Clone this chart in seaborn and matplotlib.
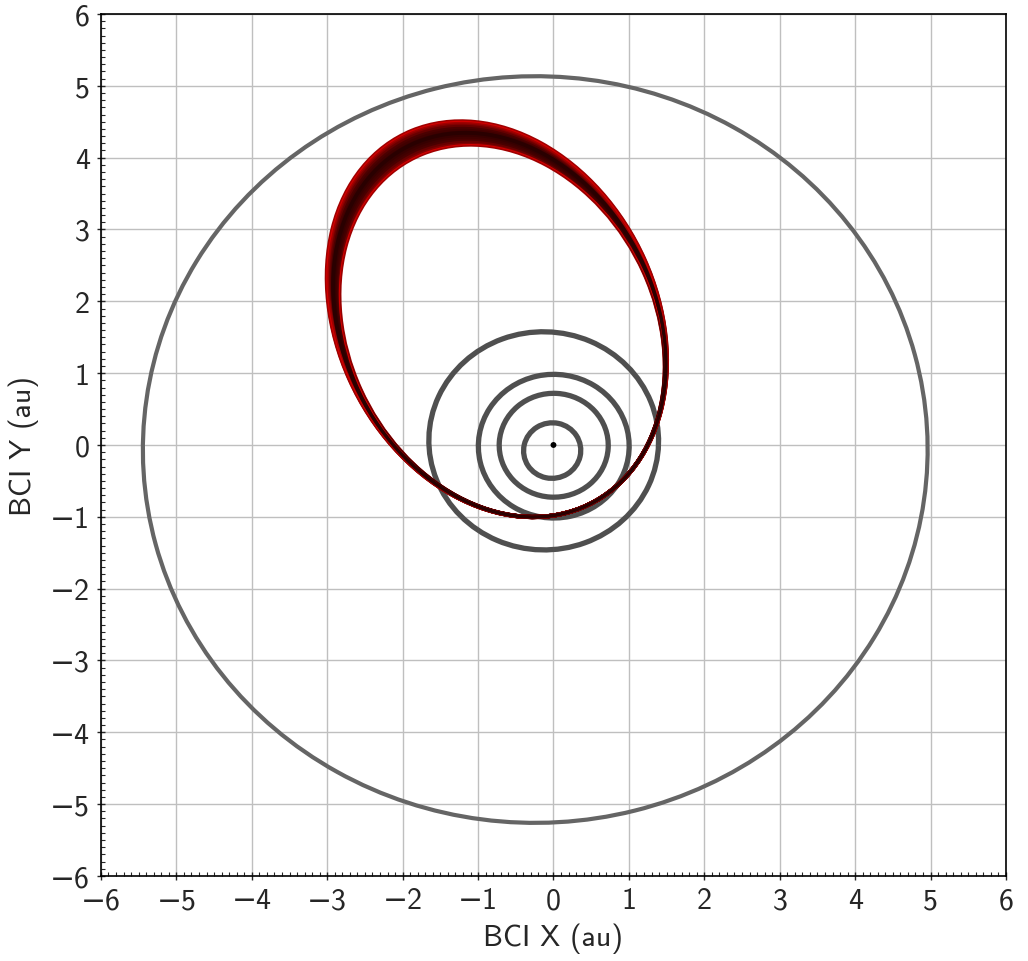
import numpy as np
import matplotlib
matplotlib.use("Agg")
import matplotlib.pyplot as plt
from matplotlib.patches import Ellipse
from matplotlib.colors import LinearSegmentedColormap
from matplotlib.ticker import MultipleLocator
import seaborn as sns

# planet orbits: semi-major axis (au), eccentricity, longitude of perihelion (deg)
planets = ["Mercury", "Venus", "Earth", "Mars", "Jupiter"]
planet_a = [0.387, 0.723, 1.000, 1.524, 5.203]
planet_e = [0.206, 0.007, 0.017, 0.093, 0.048]
planet_peri = [77.5, 131.5, 102.9, 336.0, 14.7]

# small body: many osculating orbits, same perihelion distance, drifting semi-major axis
body_q = 0.95
body_peri = -66.8
body_a = [2.68, 2.695, 2.71, 2.725, 2.74, 2.755, 2.77, 2.785, 2.80, 2.815, 2.83, 2.845, 2.855]

sns.set_style("ticks")
plt.rcParams["font.family"] = ["cmss10", "DejaVu Sans"]
plt.rcParams["axes.unicode_minus"] = True


def orbit_patch(a, e, peri, **kw):
    b = a * np.sqrt(1 - e ** 2)
    w = np.deg2rad(peri)
    cx, cy = -a * e * np.cos(w), -a * e * np.sin(w)
    return Ellipse((cx, cy), 2 * a, 2 * b, angle=peri, fill=False, **kw)


fig = plt.figure(figsize=(10.28, 9.62), dpi=100)
ax = fig.add_axes([0.0982, 0.0884, 0.8804, 0.896])

for name, a, e, w in zip(planets, planet_a, planet_e, planet_peri):
    col = "#656565" if name == "Jupiter" else "#4f4f4f"
    lw = 3.0 if name == "Jupiter" else 3.8
    ax.add_patch(orbit_patch(a, e, w, edgecolor=col, lw=lw, zorder=3))

cmap = LinearSegmentedColormap.from_list(
    "band", ["#a00000", "#4a0000", "#2c0000", "#4a0000", "#a00000"])
n = len(body_a)
for i, a in enumerate(body_a):
    e = 1 - body_q / a
    ax.add_patch(orbit_patch(a, e, body_peri, edgecolor=cmap(i / (n - 1)),
                             lw=3.0, zorder=4))
for a in (body_a[0], body_a[-1]):
    e = 1 - body_q / a
    ax.add_patch(orbit_patch(a, e, body_peri, edgecolor="#d40000",
                             lw=0.8, zorder=5))
mid = body_a[n // 2]
ax.add_patch(orbit_patch(mid, 1 - body_q / mid, body_peri,
                         edgecolor="#2a0000", lw=2.5, zorder=5))

sns.scatterplot(x=[0.0], y=[0.0], color="black", s=18, edgecolor="none",
                ax=ax, zorder=6)

ax.set_xlim(-6, 6)
ax.set_ylim(-6, 6)
ax.xaxis.set_major_locator(MultipleLocator(1))
ax.yaxis.set_major_locator(MultipleLocator(1))
ax.xaxis.set_minor_locator(MultipleLocator(0.1))
ax.yaxis.set_minor_locator(MultipleLocator(0.1))
ax.grid(True, which="major", color="#bfbfbf", lw=1.0, zorder=0)
ax.set_axisbelow(True)
ax.tick_params(which="major", direction="inout", length=6, width=1.0,
               labelsize=21.5, pad=5)
ax.tick_params(which="minor", direction="in", length=3, width=0.8)
ax.tick_params(top=False, right=False, which="both")
for s in ax.spines.values():
    s.set_linewidth(1.2)
    s.set_color("black")

ax.set_xlabel("BCI X (au)", fontsize=21.5, labelpad=6)
ax.set_ylabel("BCI Y (au)", fontsize=21.5, labelpad=8)

fig.savefig("out.png", dpi=100)
